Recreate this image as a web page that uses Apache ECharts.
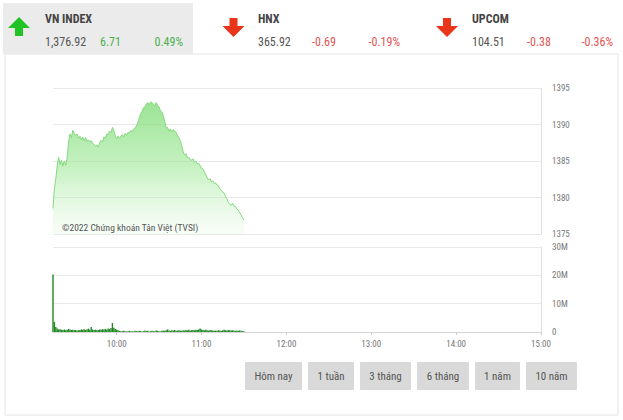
<!DOCTYPE html>
<html>
<head>
<meta charset="utf-8">
<script src="https://cdn.jsdelivr.net/npm/echarts@6/dist/echarts.min.js"></script>
<style>
html,body{margin:0;padding:0;background:#fff;}
#chart{width:623px;height:420px;}
</style>
</head>
<body>
<div id="chart"></div>
<script>
// ---------- DATA ----------
const indexNames = ['VN INDEX', 'HNX', 'UPCOM'];
const indexValues = ['1,376.92', '365.92', '104.51'];
const indexChanges = ['6.71', '-0.69', '-0.38'];
const indexPercents = ['0.49%', '-0.19%', '-0.36%'];
const indexUp = [true, false, false];

const sessionStart = '09:15';   // first minute of the data
const sessionEnd = '15:00';
const timeTicks = ['10:00', '11:00', '12:00', '13:00', '14:00', '15:00'];

// VN-Index, one value per minute from 09:15
const priceValues = [
 1378.5,1381.2,1382.6,1384.4,1385.5,1384.5,1385.1,1384.3,1385.0,1384.4,
 1385.4,1387.6,1388.7,1388.2,1389.2,1388.8,1388.5,1388.7,1388.1,1388.4,
 1387.9,1388.3,1387.8,1388.2,1387.7,1387.9,1387.6,1387.8,1387.4,1387.3,
 1387.0,1387.2,1386.9,1387.5,1387.8,1387.6,1388.3,1388.1,1388.7,1388.6,
 1389.1,1388.9,1389.6,1389.2,1388.5,1388.0,1388.4,1388.1,1388.4,1388.6,
 1388.3,1388.8,1388.5,1388.9,1388.8,1389.2,1389.0,1389.4,1389.5,1389.8,
 1390.3,1390.9,1391.5,1391.8,1392.3,1392.4,1392.8,1393.0,1392.7,1393.1,
 1393.0,1392.8,1392.6,1393.0,1392.6,1392.4,1391.9,1391.7,1391.2,1390.4,
 1389.6,1389.6,1389.1,1389.4,1389.0,1389.3,1389.1,1388.9,1388.5,1388.2,
 1387.8,1387.1,1386.3,1385.8,1386.0,1385.5,1385.5,1385.2,1385.1,1385.3,
 1384.8,1385.0,1384.6,1384.7,1384.4,1384.0,1383.9,1383.5,1383.1,1382.7,
 1382.4,1382.6,1382.1,1382.3,1381.9,1382.0,1381.7,1381.6,1381.2,1381.0,
 1380.7,1380.6,1380.1,1379.8,1379.3,1379.1,1378.9,1379.2,1378.8,1378.8,
 1378.4,1378.3,1377.9,1377.6,1377.2,1376.9
];
// Volume in millions, one value per minute from 09:15
const volumeValues = [
 20.3,3.6,1.8,1.2,0.9,1.0,0.8,0.7,0.9,0.6,
 0.8,1.1,0.9,0.7,0.8,0.6,0.7,0.5,0.6,0.7,
 0.9,0.8,1.0,0.7,0.9,1.2,0.8,1.8,0.9,0.7,
 0.8,0.6,0.7,0.9,0.8,1.0,0.9,1.1,0.8,1.2,
 1.0,1.4,3.2,1.5,1.1,0.8,0.6,0.4,0.3,0.3,
 0.4,0.3,0.2,0.3,0.4,0.3,0.3,0.2,0.4,0.3,
 0.3,0.4,0.3,0.2,0.3,0.5,0.3,0.4,0.2,0.3,
 0.4,0.3,0.3,0.5,0.4,0.3,0.2,0.4,0.5,0.4,
 0.6,0.9,0.5,0.4,0.6,0.5,0.7,0.4,0.5,0.6,
 0.5,0.4,0.6,0.5,0.7,0.6,0.8,0.5,0.6,0.7,
 0.6,0.8,0.7,0.9,1.2,0.9,0.7,0.6,0.8,0.6,
 0.5,0.7,0.6,0.5,0.4,0.5,0.4,0.6,0.5,0.4,
 0.6,0.8,0.6,0.5,0.7,0.6,0.5,0.6,0.5,0.4,
 0.5,0.4,0.5,0.4,0.3,0.3
];
const buttonLabels = ['Hôm nay', '1 tuần', '3 tháng', '6 tháng', '1 năm', '10 năm'];
const watermark = '©2022 Chứng khoán Tân Việt (TVSI)';

// ---------- HELPERS ----------
function toMin(s){ const p = s.split(':'); return (+p[0]) * 60 + (+p[1]); }
function fmtMin(v){ const h = Math.floor(v / 60), m = v % 60; return (h < 10 ? '0' : '') + h + ':' + (m < 10 ? '0' : '') + m; }

function hasFont(name){
  const c = document.createElement('canvas').getContext('2d');
  const t = 'abcdefghijklmnopqrstuvwxyz 0123456789 ABCDEFGHIJ';
  const bases = ['monospace', 'serif'];
  for (const b of bases){
    c.font = '20px ' + b; const w0 = c.measureText(t).width;
    c.font = '20px "' + name + '",' + b; const w1 = c.measureText(t).width;
    if (Math.abs(w0 - w1) > 0.5) return true;
  }
  return false;
}
const fontCands = ['Roboto Condensed', 'Liberation Sans Narrow', 'DejaVu Sans Condensed', 'Roboto'];
let FONT = 'sans-serif';
for (const f of fontCands){ if (hasFont(f)){ FONT = f; break; } }

const t0 = toMin(sessionStart);
const priceData = priceValues.map((v, i) => [t0 + i, v]);
const volData = volumeValues.map((v, i) => [t0 + i, v * 1e6]);
const tickMins = timeTicks.map(toMin);

// ---------- GRAPHIC (header, panel, buttons) ----------
const GREEN = '#4cb050', RED = '#e25555';
const graphics = [];
graphics.push({ type: 'rect', shape: { x: 5, y: 54, width: 613, height: 361 }, style: { fill: '#fff', stroke: '#e4e4e4', lineWidth: 1 }, z: -10 });
graphics.push({ type: 'rect', shape: { x: 3, y: 3, width: 190, height: 51 }, style: { fill: '#ebebeb' }, z: -10 });

const blockX = [45, 258, 472];
const arrowCx = [19, 233.5, 447];
const chgX = [100, 312, 527];
const pctRight = [183, 400, 613];
for (let k = 0; k < 3; k++){
  const col = indexUp[k] ? GREEN : RED;
  const cx = arrowCx[k];
  let pts;
  if (indexUp[k]) {
    pts = [[cx - 11, 28], [cx, 17], [cx + 11, 28], [cx + 4, 28], [cx + 4, 36], [cx - 4, 36], [cx - 4, 28]];
  } else {
    pts = [[cx - 11, 26], [cx, 37], [cx + 11, 26], [cx + 4, 26], [cx + 4, 18], [cx - 4, 18], [cx - 4, 26]];
  }
  graphics.push({ type: 'polygon', shape: { points: pts }, style: { fill: indexUp[k] ? '#20c323' : '#e8361b' } });
  graphics.push({ type: 'text', x: blockX[k], y: 19, style: { text: indexNames[k], fill: '#444', font: 'bold 12px "' + FONT + '"', textVerticalAlign: 'middle' } });
  graphics.push({ type: 'text', x: blockX[k], y: 42, style: { text: indexValues[k], fill: '#555', font: '12px "' + FONT + '"', textVerticalAlign: 'middle' } });
  graphics.push({ type: 'text', x: chgX[k], y: 42, style: { text: indexChanges[k], fill: col, font: '12px "' + FONT + '"', textVerticalAlign: 'middle' } });
  graphics.push({ type: 'text', x: pctRight[k], y: 42, style: { text: indexPercents[k], fill: col, font: '12px "' + FONT + '"', textVerticalAlign: 'middle', textAlign: 'right' } });
}
const btnX = [245, 308, 360, 417, 475, 526];
const btnW = [57, 46, 51, 52, 45, 51];
buttonLabels.forEach((lab, i) => {
  graphics.push({ type: 'rect', shape: { x: btnX[i], y: 362, width: btnW[i], height: 28, r: 1 }, style: { fill: '#d9d9d9' } });
  graphics.push({ type: 'text', x: btnX[i] + btnW[i] / 2, y: 376, style: { text: lab, fill: '#555', font: '11px "' + FONT + '"', textAlign: 'center', textVerticalAlign: 'middle' } });
});
graphics.push({ type: 'text', x: 62, y: 227, z: 10, style: { text: watermark, fill: '#555', font: '9.5px "' + FONT + '"', textVerticalAlign: 'middle' } });

// ---------- CHART ----------
const chart = echarts.init(document.getElementById('chart'), null, { renderer: 'svg' });
const axisLabelStyle = { color: '#777', fontSize: 9, fontFamily: FONT };
chart.setOption({
  animation: false,
  textStyle: { fontFamily: FONT },
  graphic: graphics,
  grid: [
    { left: 53, top: 88, width: 488, height: 146 },
    { left: 53, top: 247, width: 488, height: 85 }
  ],
  xAxis: [
    { type: 'value', gridIndex: 0, min: toMin(sessionStart), max: toMin(sessionEnd),
      axisLine: { show: false }, axisTick: { show: false }, axisLabel: { show: false }, splitLine: { show: false } },
    { type: 'value', gridIndex: 1, min: toMin(sessionStart), max: toMin(sessionEnd),
      axisLine: { show: true, lineStyle: { color: '#d5d5d5' } },
      axisTick: { show: true, customValues: tickMins, length: 3, lineStyle: { color: '#ccc' } },
      axisLabel: Object.assign({ customValues: tickMins, margin: 7, formatter: v => fmtMin(v) }, axisLabelStyle),
      splitLine: { show: false } }
  ],
  yAxis: [
    { type: 'value', gridIndex: 0, position: 'right', min: 1375, max: 1395, interval: 5,
      axisLine: { show: true, lineStyle: { color: '#e0e0e0' } }, axisTick: { show: false },
      axisLabel: Object.assign({ margin: 11, formatter: v => String(v) }, axisLabelStyle),
      splitLine: { show: true, lineStyle: { color: '#e8e8e8' } } },
    { type: 'value', gridIndex: 1, position: 'right', min: 0, max: 30e6, interval: 10e6,
      axisLine: { show: true, lineStyle: { color: '#e0e0e0' } }, axisTick: { show: false },
      axisLabel: Object.assign({ margin: 11, formatter: v => v === 0 ? '0' : (v / 1e6) + 'M' }, axisLabelStyle),
      splitLine: { show: true, lineStyle: { color: '#e8e8e8' } } }
  ],
  series: [
    { type: 'line', xAxisIndex: 0, yAxisIndex: 0, data: priceData, showSymbol: false, symbol: 'none',
      lineStyle: { color: '#84da7e', width: 1 },
      areaStyle: { origin: 'start', color: new echarts.graphic.LinearGradient(0, 0, 0, 1, [
        { offset: 0, color: 'rgba(112,216,102,1)' },
        { offset: 0.5, color: 'rgba(160,232,152,0.85)' },
        { offset: 1, color: 'rgba(228,248,226,0.4)' }
      ]) } },
    { type: 'bar', xAxisIndex: 1, yAxisIndex: 1, data: volData, barWidth: 1.4,
      itemStyle: { color: '#1f8a22' } }
  ]
});
</script>
</body>
</html>
